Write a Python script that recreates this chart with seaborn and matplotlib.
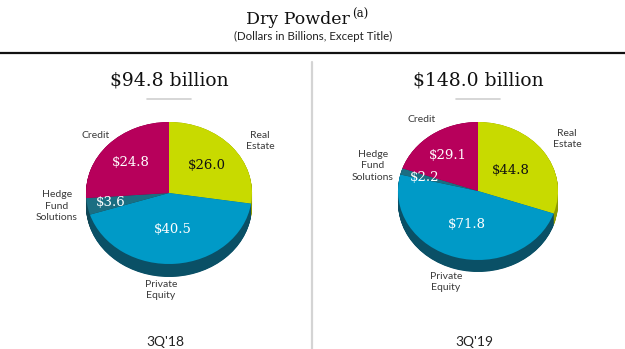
import matplotlib
matplotlib.use("Agg")
import matplotlib.pyplot as plt
import seaborn as sns
import numpy as np

sns.set_theme(style="white")
plt.rcParams['font.family'] = ['Lato', 'DejaVu Sans']

# ---------------- data ----------------
categories = ["Real Estate", "Private Equity", "Hedge Fund Solutions", "Credit"]
cat_labels = ["Real\nEstate", "Private\nEquity", "Hedge\nFund\nSolutions", "Credit"]
values_3q18 = [26.0, 40.5, 3.6, 24.8]
values_3q19 = [44.8, 71.8, 2.2, 29.1]
value_text_3q18 = ["$26.0", "$40.5", "$3.6", "$24.8"]
value_text_3q19 = ["$44.8", "$71.8", "$2.2", "$29.1"]
totals = ["$94.8 billion", "$148.0 billion"]
periods = ["3Q'18", "3Q'19"]
title = "Dry Powder"
title_note = "(a)"
subtitle = "(Dollars in Billions, Except Title)"

top_colors = ["#C8DA00", "#009AC7", "#1B6E82", "#B7005B"]
side_colors = ["#8E9A00", "#0A5066", "#0F4656", "#7E003E"]
value_colors = ["#111111", "white", "white", "white"]

W, H = 625, 349
fig = plt.figure(figsize=(W / 100, H / 100), dpi=100)


def fx(x):
    return x / W


def fy(y):
    return 1 - y / H


SERIF = ['DejaVu Serif']

# title & header lines
fig.text(fx(350), fy(20), title, ha="right", va="center", fontsize=12.5,
         family=SERIF, color="#111111")
fig.text(fx(352), fy(14), title_note, ha="left", va="center", fontsize=8.5,
         family=SERIF, color="#111111")
fig.text(fx(313), fy(36.5), subtitle, ha="center", va="center", fontsize=8.3,
         color="#222222")
fig.add_artist(plt.Line2D([0, 1], [fy(52.5), fy(52.5)], color="#111111", lw=1.6))
fig.add_artist(plt.Line2D([fx(312), fx(312)], [fy(62), 0], color="#D4D4D4", lw=1.6))


def draw_pie(cx, cy, rx, ry, depth, values, vtexts, radii, total, period, cat_pos):
    pad = 1.35
    d = depth / ry
    left = cx - pad * rx
    bottom = cy + pad * ry + depth
    ax = fig.add_axes([fx(left), fy(bottom), 2 * pad * rx / W,
                       (2 * pad * ry + depth) / H])
    # side (extruded) layers
    for t in np.linspace(d, 0, 30):
        ax.pie(values, colors=side_colors, startangle=90, counterclock=False,
               center=(0, -t), radius=1, wedgeprops=dict(linewidth=0))
    wedges, _ = ax.pie(values, colors=top_colors, startangle=90, counterclock=False,
                       center=(0, 0), radius=1, wedgeprops=dict(linewidth=0))
    ax.set_aspect("auto")
    ax.set_xlim(-pad, pad)
    ax.set_ylim(-pad - d, pad)
    ax.axis("off")
    for w, txt, r, c in zip(wedges, vtexts, radii, value_colors):
        mid = np.deg2rad((w.theta1 + w.theta2) / 2)
        ax.text(r * np.cos(mid), r * np.sin(mid), txt, ha="center", va="center",
                fontsize=9.5, family=SERIF, color=c)
    # header total
    fig.text(fx(cx), fy(80), total, ha="center", va="center", fontsize=13.5,
             family=SERIF, color="#111111")
    fig.add_artist(plt.Line2D([fx(cx - 22), fx(cx + 22)], [fy(99), fy(99)],
                              color="#CFCFCF", lw=1.2))
    for lab, (px, py) in zip(cat_labels, cat_pos):
        fig.text(fx(px), fy(py), lab, ha="center", va="center", fontsize=7.5,
                 color="#3A3A3A", linespacing=1.3)
    fig.text(fx(cx - 4), fy(342), period, ha="center", va="center", fontsize=10,
             color="#222222")


draw_pie(169, 193, 83, 71, 13, values_3q18, value_text_3q18,
         [0.6, 0.51, 0.71, 0.63], totals[0], periods[0],
         [(260, 141), (161, 290), (57, 206), (96, 135)])
draw_pie(478, 191, 80, 69, 12, values_3q19, value_text_3q19,
         [0.5, 0.5, 0.7, 0.64], totals[1], periods[1],
         [(567, 139), (446, 282), (373, 166), (422, 120)])

fig.savefig("out.png", dpi=100, facecolor="white")
